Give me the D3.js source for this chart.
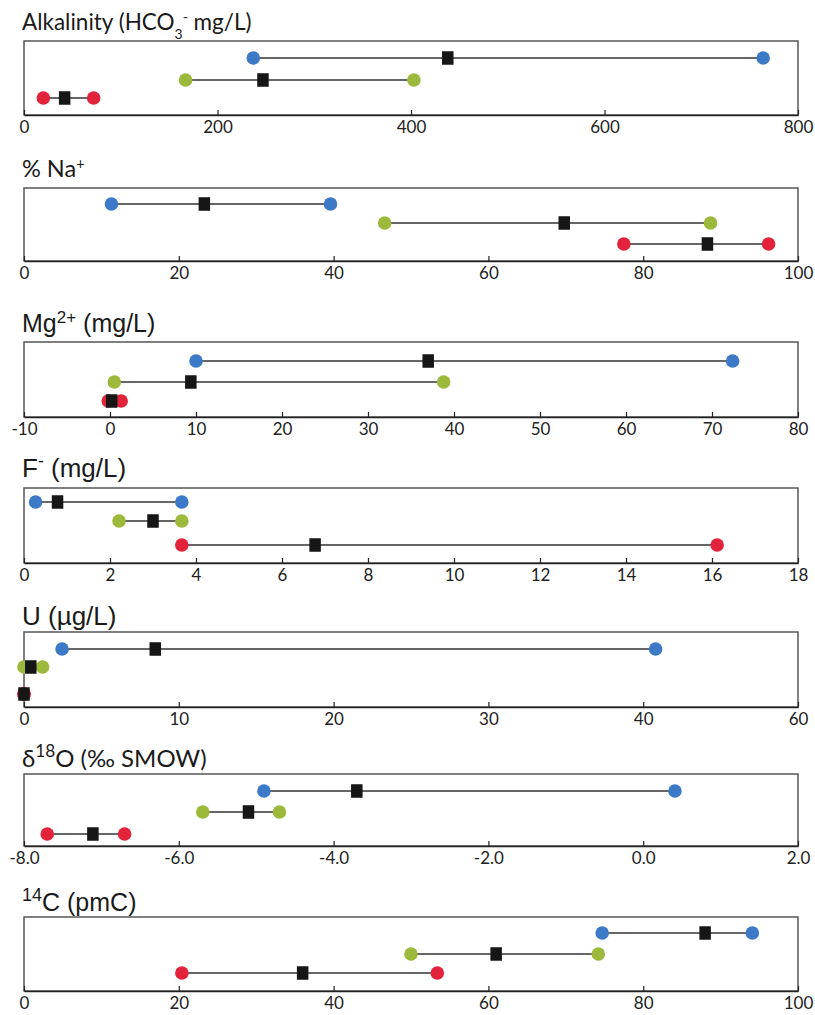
<!DOCTYPE html>
<html><head><meta charset="utf-8">
<script src="https://cdn.jsdelivr.net/npm/d3@7"></script>
<style>body{margin:0;background:#fff}</style>
</head><body>
<svg id="c" width="815" height="1015"></svg>
<script>
// ---------- data ----------
const seriesNames = ["blue group","green group","red group"];
const seriesColors = ["#3c7ac8","#9cb93b","#e3223b"];

const alkMin  = [237, 167, 20];
const alkMean = [438, 247, 42];
const alkMax  = [764, 403, 72];
const alkTicks = [0, 200, 400, 600, 800];

const naMin  = [11.3, 46.6, 77.5];
const naMean = [23.3, 69.8, 88.3];
const naMax  = [39.6, 88.7, 96.2];
const naTicks = [0, 20, 40, 60, 80, 100];

const mgMin  = [10.0, 0.5, -0.2];
const mgMean = [37.0, 9.4, 0.2];
const mgMax  = [72.4, 38.8, 1.3];
const mgTicks = [-10, 0, 10, 20, 30, 40, 50, 60, 70, 80];

const fMin  = [0.27, 2.21, 3.67];
const fMean = [0.78, 3.0, 6.77];
const fMax  = [3.67, 3.67, 16.12];
const fTicks = [0, 2, 4, 6, 8, 10, 12, 14, 16, 18];

const uMin  = [2.46, 0.0, 0.0];
const uMean = [8.48, 0.44, 0.0];
const uMax  = [40.8, 1.2, 0.0];
const uTicks = [0, 10, 20, 30, 40, 50];
const uTickLabels = ["0", "10", "20", "30", "40", "60"];

const oMin  = [-4.90, -5.69, -7.70];
const oMean = [-3.70, -5.10, -7.11];
const oMax  = [0.41, -4.70, -6.70];
const oTicks = [-8, -6, -4, -2, 0, 2];

const cMin  = [74.7, 50.0, 20.4];
const cMean = [88.0, 61.0, 36.0];
const cMax  = [94.1, 74.2, 53.4];
const cTicks = [0, 20, 40, 60, 80, 100];

// ---------- panel table built from the arrays ----------
const panels = [
  {title:[["Alkalinity (HCO",0],["3",-1],["-",1],[" mg/L)",0]], font:"Lato", tsize:22.5, ssize:0.62,
   min:alkMin, mean:alkMean, max:alkMax, ticks:alkTicks, fmt:d3.format("d"),
   titleY:30, top:41, bottom:115, rows:[17,39,57]},
  {title:[["% Na",0],["+",1]], font:"Lato", tsize:23.5, ssize:0.62,
   min:naMin, mean:naMean, max:naMax, ticks:naTicks, fmt:d3.format("d"),
   titleY:177, top:188, bottom:261, rows:[16,35,56]},
  {title:[["Mg",0],["2+",1],[" (mg/L)",0]], font:"Liberation Sans", tsize:25, ssize:0.68,
   min:mgMin, mean:mgMean, max:mgMax, ticks:mgTicks, fmt:d3.format("d"),
   titleY:332, top:342, bottom:417, rows:[19,40,59]},
  {title:[["F",0],["-",1],[" (mg/L)",0]], font:"Liberation Sans", tsize:26, ssize:0.68,
   min:fMin, mean:fMean, max:fMax, ticks:fTicks, fmt:d3.format("d"),
   titleY:477, top:488, bottom:563, rows:[14,33,57]},
  {title:[["U (µg/L)",0]], font:"Liberation Sans", tsize:26, ssize:0.68,
   min:uMin, mean:uMean, max:uMax, ticks:uTicks, labels:uTickLabels, fmt:d3.format("d"),
   titleY:625, top:632, bottom:707, rows:[17,35,62]},
  {title:[["δ",0],["18",1],["O (‰ SMOW)",0]], font:"Lato", tsize:24, ssize:0.72,
   min:oMin, mean:oMean, max:oMax, ticks:oTicks, fmt:d3.format(".1f"),
   titleY:767, top:774, bottom:846, rows:[17,38,60]},
  {title:[["14",1],["C (pmC)",0]], font:"Liberation Sans", tsize:25, ssize:0.72,
   min:cMin, mean:cMean, max:cMax, ticks:cTicks, fmt:d3.format("d"),
   titleY:911, top:917, bottom:991, rows:[16,37,56]}
];

const svg = d3.select("#c");
const left = 24, right = 798;

panels.forEach(p => {
  const ext = d3.extent(p.ticks);
  const x = d3.scaleLinear().domain(ext).range([left, right]);
  const h = p.bottom - p.top;
  const y = d3.scaleOrdinal().domain([0,1,2]).range(p.rows.map(r => p.top + r));
  const g = svg.append("g");

  // title
  const t = g.append("text").attr("x", 22).attr("y", p.titleY)
    .attr("font-family", p.font).attr("font-size", p.tsize).attr("fill", "#1a1a1a");
  p.title.forEach(([s, pos]) => {
    const ts = t.append("tspan").text(s);
    if (pos === 1) ts.attr("font-size", p.tsize * p.ssize).attr("baseline-shift", "super");
    if (pos === -1) ts.attr("font-size", p.tsize * p.ssize).attr("baseline-shift", "sub");
  });

  // box
  g.append("rect").attr("x", left).attr("y", p.top)
    .attr("width", right - left).attr("height", h)
    .attr("fill", "none").attr("stroke", "#4a4a4a").attr("stroke-width", 1.4);

  // axis
  const ax = d3.axisBottom(x).tickValues(p.ticks).tickSizeInner(-5).tickSizeOuter(0).tickPadding(6)
    .tickFormat((d, i) => p.labels ? p.labels[i] : p.fmt(d).replace("−", "-"));
  const axg = g.append("g").attr("transform", `translate(0,${p.bottom})`).call(ax);
  axg.select(".domain").attr("stroke", "#222").attr("stroke-width", 1.5);
  axg.selectAll(".tick line").attr("stroke", "#222").attr("stroke-width", 1.2);
  axg.selectAll(".tick text").attr("font-family", "Lato").attr("font-size", 17).attr("fill", "#222");

  const idx = [0, 1, 2];
  // connecting lines
  g.selectAll("line.rng").data(idx).join("line").attr("class", "rng")
    .attr("x1", i => x(p.min[i])).attr("x2", i => x(p.max[i]))
    .attr("y1", i => y(i)).attr("y2", i => y(i))
    .attr("stroke", "#333").attr("stroke-width", 1.5);
  // end circles
  const ends = [];
  idx.forEach(i => { ends.push({i, v: p.min[i]}); ends.push({i, v: p.max[i]}); });
  g.selectAll("circle.end").data(ends).join("circle").attr("class", "end")
    .attr("cx", d => x(d.v)).attr("cy", d => y(d.i)).attr("r", 6.8)
    .attr("fill", d => seriesColors[d.i]);
  // mean squares
  const s = 11.5;
  g.selectAll("rect.mean").data(idx).join("rect").attr("class", "mean")
    .attr("x", i => x(p.mean[i]) - s / 2).attr("y", i => y(i) - s / 2 - 1)
    .attr("width", s).attr("height", s + 2).attr("fill", "#161616");
});
</script>
</body></html>
